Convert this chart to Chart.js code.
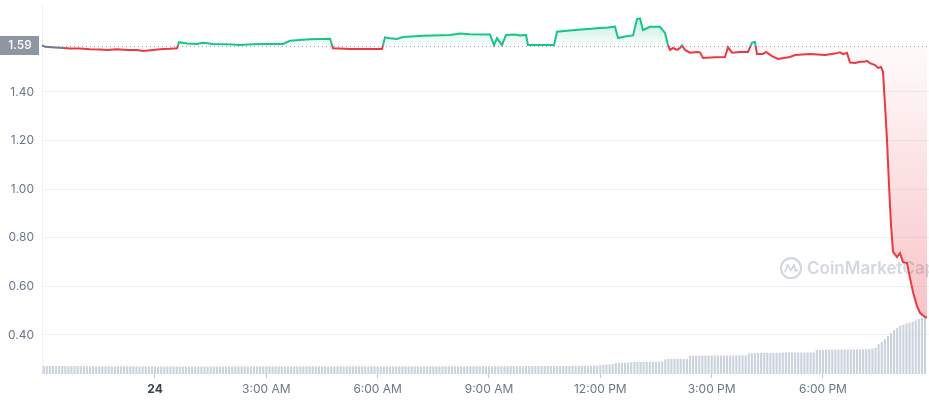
<!DOCTYPE html>
<html><head><meta charset="utf-8">
<script src="https://cdn.jsdelivr.net/npm/chart.js@4.4.1/dist/chart.umd.min.js"></script>
<style>html,body{margin:0;padding:0;background:#fff;}#wrap{width:929px;height:400px;position:relative;}</style>
</head><body><div id="wrap"><canvas id="c" width="929" height="400"></canvas></div>
<script>
// ---- data ----
const referencePrice = 1.59;
const referenceLabel = '1.59';
const yTickValues = [0.40, 0.60, 0.80, 1.00, 1.20, 1.40];
const xTickHours = [0, 3, 6, 9, 12, 15, 18];
const xTickLabels = ['24', '3:00 AM', '6:00 AM', '9:00 AM', '12:00 PM', '3:00 PM', '6:00 PM'];

// hours relative to midnight of the 24th
const priceHours = [-3.045,-2.964,-2.695,-2.479,-2.290,-2.021,-1.752,-1.482,-1.293,-1.024,-0.755,-0.485,-0.323,-0.054,
0.216,0.404,0.593,0.647,0.862,1.132,1.293,1.563,1.940,2.290,2.641,2.964,3.449,3.638,4.177,4.716,4.797,5.255,6.117,
6.198,6.333,6.521,6.683,7.222,7.949,8.219,8.488,9.027,9.135,9.216,9.351,9.458,9.701,9.836,9.997,10.051,10.752,
10.833,11.318,11.668,11.991,12.207,12.396,12.477,12.665,12.881,12.989,13.070,13.150,13.339,13.608,13.743,13.824,
13.878,13.958,14.066,14.147,14.201,14.282,14.417,14.605,14.686,14.767,15.090,15.360,15.441,15.549,15.764,15.980,
16.088,16.168,16.222,16.384,16.465,16.626,16.788,17.111,17.246,17.650,18.054,18.324,18.459,18.540,18.647,18.728,
18.863,18.998,19.106,19.186,19.267,19.402,19.483,19.564,19.618,19.671,19.725,19.779,19.833,19.887,19.995,20.075,
20.156,20.264,20.345,20.426,20.534,20.614,20.749,20.803];
const prices = [1.593,1.586,1.583,1.581,1.579,1.579,1.576,1.575,1.573,1.576,1.573,1.573,1.569,1.573,
1.577,1.578,1.580,1.605,1.600,1.598,1.603,1.598,1.596,1.593,1.596,1.598,1.598,1.611,1.617,1.619,1.580,1.577,1.577,
1.625,1.621,1.618,1.626,1.631,1.635,1.641,1.638,1.637,1.593,1.622,1.593,1.635,1.637,1.633,1.635,1.593,1.593,
1.648,1.655,1.659,1.663,1.665,1.669,1.622,1.628,1.633,1.700,1.703,1.655,1.668,1.668,1.643,1.593,
1.573,1.581,1.573,1.581,1.592,1.573,1.562,1.565,1.563,1.540,1.543,1.544,1.584,1.562,1.565,1.565,
1.603,1.606,1.556,1.556,1.565,1.548,1.536,1.544,1.552,1.556,1.552,1.558,1.563,1.556,1.561,1.521,
1.519,1.524,1.524,1.528,1.519,1.511,1.499,1.503,1.482,1.347,1.203,1.017,0.853,0.742,0.721,0.737,
0.700,0.696,0.635,0.577,0.519,0.491,0.474,0.472];

// 5-minute volume bars starting at 21:00 on the 23rd (relative units)
const volumeStartHour = -3;
const volumeStepHours = 5 / 60;
const volumes = [
1.05,1.05,1.04,1.05,1.04,1.03,1.04,1.03,1.02,1.03,1.02,1.02,
1.02,1.01,1.02,1.01,1.01,1.00,1.01,1.00,1.00,1.01,1.00,0.99,
1.00,0.99,0.99,1.00,0.99,0.98,0.99,0.98,0.99,0.98,0.98,0.99,
0.98,0.97,0.98,0.98,0.97,0.97,0.98,0.97,0.96,0.97,0.97,0.96,
0.97,0.96,0.97,0.96,0.96,0.97,0.96,0.96,0.97,0.96,0.97,0.97,
0.97,0.98,0.97,0.98,0.98,0.97,0.98,0.98,0.99,0.98,0.98,0.99,
0.98,0.99,0.98,0.99,0.99,0.98,0.99,0.99,0.98,0.99,0.99,0.98,
0.99,0.98,0.99,0.99,1.00,0.99,0.99,1.00,0.99,0.99,1.00,0.99,
0.99,1.00,0.99,0.99,1.00,1.00,0.99,1.00,0.99,1.00,1.00,0.99,
1.00,0.99,1.00,1.00,1.00,0.99,1.00,1.00,1.01,1.00,1.00,1.01,
1.00,1.01,1.00,1.01,1.01,1.00,1.01,1.01,1.00,1.01,1.01,1.00,
1.01,1.01,1.00,1.01,1.01,1.02,1.01,1.01,1.02,1.01,1.02,1.01,
1.02,1.01,1.02,1.02,1.01,1.02,1.02,1.03,1.02,1.02,1.03,1.02,
1.03,1.02,1.03,1.03,1.04,1.03,1.03,1.04,1.03,1.04,1.04,1.05,
1.04,1.05,1.05,1.06,1.05,1.06,1.06,1.07,1.06,1.07,1.08,1.10,
1.15,1.20,1.22,1.25,1.30,1.45,1.45,1.46,1.50,1.50,1.55,1.60,
1.60,1.60,1.61,1.60,1.61,1.62,1.62,1.63,1.65,1.95,2.00,2.00,
2.00,2.01,2.00,2.02,2.02,2.45,2.45,2.46,2.45,2.46,2.46,2.47,
2.46,2.47,2.47,2.46,2.47,2.48,2.47,2.48,2.48,2.48,2.50,2.50,
2.75,2.78,2.80,2.80,2.81,2.80,2.82,2.82,2.81,2.82,2.83,2.85,
2.85,2.86,2.85,2.86,2.86,2.87,2.86,2.87,2.87,2.88,3.20,3.20,
3.20,3.25,3.25,3.26,3.25,3.26,3.27,3.27,3.28,3.28,3.30,3.30,
3.30,3.30,3.35,3.35,3.40,3.50,4.00,4.30,4.70,5.10,5.50,5.90,
6.20,6.50,6.60,6.80,6.90,7.00,7.20,7.40,7.55,7.70];

// ---- build ----
const GREEN = '#16c784', RED = '#ea3943';
const priceData = priceHours.map((h, i) => ({x: h, y: prices[i]}));
const volumeData = volumes.map((v, i) => ({x: volumeStartHour + i * volumeStepHours, y: v}));

function refStop(chart) {
  const a = chart.chartArea;
  const yr = chart.scales.y.getPixelForValue(referencePrice);
  return Math.min(1, Math.max(0, (yr - a.top) / (a.bottom - a.top)));
}
function lineColor(ctx) {
  const chart = ctx.chart, a = chart.chartArea;
  if (!a) return GREEN;
  const p = refStop(chart);
  const g = chart.ctx.createLinearGradient(0, a.top, 0, a.bottom);
  g.addColorStop(0, GREEN); g.addColorStop(p, GREEN);
  g.addColorStop(p, RED); g.addColorStop(1, RED);
  return g;
}
function fillColor(ctx) {
  const chart = ctx.chart, a = chart.chartArea;
  if (!a) return 'rgba(0,0,0,0)';
  const p = refStop(chart);
  const g = chart.ctx.createLinearGradient(0, a.top, 0, a.bottom);
  g.addColorStop(0, 'rgba(22,199,132,0.40)');
  g.addColorStop(p, 'rgba(22,199,132,0.02)');
  g.addColorStop(p, 'rgba(234,57,67,0.02)');
  g.addColorStop(1, 'rgba(234,57,67,0.36)');
  return g;
}

const decorations = {
  id: 'decorations',
  beforeDatasetsDraw(chart) {
    const {ctx, chartArea: a, scales} = chart;
    // watermark
    ctx.save();
    const cx = a.right - 138, cy = scales.y.getPixelForValue(0.675);
    ctx.strokeStyle = '#d3d8e0'; ctx.lineWidth = 2.2;
    ctx.beginPath(); ctx.arc(cx, cy, 10, 0, Math.PI * 2); ctx.stroke();
    ctx.lineWidth = 1.8; ctx.lineJoin = 'round';
    ctx.beginPath();
    ctx.moveTo(cx - 6, cy + 4); ctx.lineTo(cx - 3.5, cy - 3.5); ctx.lineTo(cx, cy + 2);
    ctx.lineTo(cx + 3, cy - 3.5); ctx.lineTo(cx + 4.5, cy + 3); ctx.lineTo(cx + 7, cy + 1);
    ctx.stroke();
    ctx.fillStyle = '#d3d8e0';
    ctx.font = '600 17px Inter, "Noto Sans", sans-serif';
    ctx.textBaseline = 'middle'; ctx.textAlign = 'left';
    ctx.fillText('CoinMarketCap', cx + 16, cy + 1);
    // dotted reference line
    const yr = Math.round(scales.y.getPixelForValue(referencePrice)) + 0.5;
    ctx.strokeStyle = '#9aa2b3'; ctx.lineWidth = 1; ctx.setLineDash([1, 3]);
    ctx.beginPath(); ctx.moveTo(a.left, yr); ctx.lineTo(a.right, yr); ctx.stroke();
    ctx.restore();
  },
  afterDraw(chart) {
    const {ctx, scales} = chart;
    const yr = scales.y.getPixelForValue(referencePrice);
    ctx.save();
    ctx.fillStyle = '#8f96a3';
    ctx.fillRect(0, Math.round(yr - 10), 39, 19);
    ctx.fillStyle = '#ffffff';
    ctx.font = '500 12px Inter, "Noto Sans", sans-serif';
    ctx.textAlign = 'center'; ctx.textBaseline = 'middle';
    ctx.fillText(referenceLabel, 20, yr);
    ctx.restore();
  }
};

new Chart(document.getElementById('c'), {
  data: {
    datasets: [
      {
        type: 'line', data: priceData, order: 0,
        borderColor: lineColor, backgroundColor: fillColor,
        borderWidth: 2, pointRadius: 0, tension: 0,
        fill: {value: referencePrice},
        segment: {borderColor: c => (c.p0DataIndex < 3 ? '#707a8a' : undefined)},
        yAxisID: 'y'
      },
      {
        type: 'bar', data: volumeData, order: 1,
        backgroundColor: '#cdd3de', barThickness: 1.5, yAxisID: 'y2'
      }
    ]
  },
  options: {
    responsive: false, animation: false,
    layout: {padding: {top: 5, right: 0, left: 0, bottom: 0}},
    plugins: {legend: {display: false}, tooltip: {enabled: false}},
    scales: {
      x: {
        type: 'linear', min: -3.045, max: 20.857, offset: false,
        afterBuildTicks: s => { s.ticks = xTickHours.map(v => ({value: v})); },
        afterFit: s => { s.height = 26; },
        grid: {drawOnChartArea: false, drawTicks: true, tickLength: 4, color: '#c3cad6', offset: false},
        border: {display: false},
        ticks: {
          autoSkip: false, maxRotation: 0, padding: 4,
          callback: v => xTickLabels[xTickHours.indexOf(v)],
          color: c => (c.tick && c.tick.value === 0 ? '#3a4354' : '#6b7689'),
          font: c => (c.tick && c.tick.value === 0
            ? {family: 'Inter', size: 12, weight: 'bold'}
            : {family: 'Inter', size: 12, weight: 'normal'})
        }
      },
      y: {
        position: 'left', min: 0.2395, max: 1.758,
        afterBuildTicks: s => { s.ticks = yTickValues.map(v => ({value: v})); },
        afterFit: s => { s.width = 42; s.paddingTop = 0; s.paddingBottom = 0; },
        grid: {color: '#eff2f5', drawTicks: false},
        border: {display: true, color: '#eef1f4'},
        ticks: {padding: 8, color: '#6b7689', font: {family: 'Inter', size: 12},
          callback: v => Number(v).toFixed(2)}
      },
      y2: {display: false, min: 0, max: 50}
    }
  },
  plugins: [decorations]
});
</script></body></html>
